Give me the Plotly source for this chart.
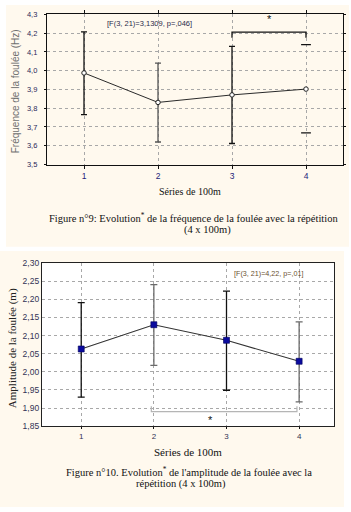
import plotly.graph_objects as go

W, H = 351, 512

# ---------------- data ----------------
series = [1, 2, 3, 4]
series_ticktext = ["1", "2", "3", "4"]

freq_mean = [3.988, 3.831, 3.871, 3.902]
freq_upper = [4.207, 4.040, 4.130, 4.139]
freq_lower = [3.766, 3.620, 3.612, 3.669]
freq_tickvals = [3.5, 3.6, 3.7, 3.8, 3.9, 4.0, 4.1, 4.2, 4.3]
freq_ticktext = ["3,5", "3,6", "3,7", "3,8", "3,9", "4,0", "4,1", "4,2", "4,3"]
freq_stat = "[F(3, 21)=3,1309, p=,046]"
freq_bracket_x = [3, 3, 4, 4]
freq_bracket_y = [4.175, 4.206, 4.206, 4.175]
freq_star = (3.5, 4.275)

amp_mean = [2.063, 2.130, 2.087, 2.029]
amp_upper = [2.191, 2.241, 2.223, 2.138]
amp_lower = [1.930, 2.018, 1.949, 1.917]
amp_tickvals = [1.85, 1.90, 1.95, 2.00, 2.05, 2.10, 2.15, 2.20, 2.25, 2.30]
amp_ticktext = ["1,85", "1,90", "1,95", "2,00", "2,05", "2,10", "2,15", "2,20", "2,25", "2,30"]
amp_stat = "[F(3, 21)=4,22, p=,01]"
amp_bracket_x = [1.965, 1.965, 3.97, 3.97]
amp_bracket_y = [1.905, 1.890, 1.890, 1.905]
amp_star = (2.785, 1.866)

# ---------------- styles ----------------
CREAM = "#fff9ee"
SANS = "Liberation Sans, Arial, sans-serif"
SERIF = "Liberation Serif, Times New Roman, serif"
freq_err_colors = ["#111111", "#555555", "#111111", "#111111"]
freq_stem_visible = [True, True, True, False]
amp_err_colors = ["#111111", "#6a6a6a", "#111111", "#6a6a6a"]


def px(x, y):
    return x / W, 1 - y / H


fig = go.Figure()

# ----- chart 1 error bars -----
for s, m, u, l, c, stem in zip(series, freq_mean, freq_upper, freq_lower,
                               freq_err_colors, freq_stem_visible):
    if stem:
        fig.add_trace(go.Scatter(
            x=[s], y=[m], mode="markers", marker=dict(opacity=0),
            error_y=dict(type="data", symmetric=False, array=[u - m],
                         arrayminus=[m - l], color=c, thickness=1.3, width=3),
            xaxis="x", yaxis="y", showlegend=False, hoverinfo="skip"))
    else:
        fig.add_trace(go.Scatter(
            x=[s, s], y=[u, l], mode="markers",
            marker=dict(symbol="line-ew", size=7, line=dict(color=c, width=1.3)),
            xaxis="x", yaxis="y", showlegend=False, hoverinfo="skip"))

fig.add_trace(go.Scatter(
    x=series, y=freq_mean, mode="lines+markers",
    line=dict(color="#2a2a2a", width=1),
    marker=dict(symbol="circle", size=4.5, color="white", line=dict(color="#222222", width=1)),
    xaxis="x", yaxis="y", showlegend=False))

fig.add_trace(go.Scatter(
    x=freq_bracket_x, y=freq_bracket_y, mode="lines",
    line=dict(color="#111111", width=1.3),
    xaxis="x", yaxis="y", showlegend=False, hoverinfo="skip"))

# ----- chart 2 error bars -----
for s, m, u, l, c in zip(series, amp_mean, amp_upper, amp_lower, amp_err_colors):
    fig.add_trace(go.Scatter(
        x=[s], y=[m], mode="markers", marker=dict(opacity=0),
        error_y=dict(type="data", symmetric=False, array=[u - m],
                     arrayminus=[m - l], color=c, thickness=1.3, width=3.5),
        xaxis="x2", yaxis="y2", showlegend=False, hoverinfo="skip"))

fig.add_trace(go.Scatter(
    x=series, y=amp_mean, mode="lines+markers",
    line=dict(color="#333333", width=1.1),
    marker=dict(symbol="square", size=6, color="#0b0b9e", line=dict(color="#00005a", width=0.6)),
    xaxis="x2", yaxis="y2", showlegend=False))

fig.add_trace(go.Scatter(
    x=amp_bracket_x, y=amp_bracket_y, mode="lines",
    line=dict(color="#b5b5b5", width=1.2),
    xaxis="x2", yaxis="y2", showlegend=False, hoverinfo="skip"))

# ----- axes -----
x1d = [47 / W, 343 / W]
y1d = [1 - 162.7 / H, 1 - 9.6 / H]
x2d = [42 / W, 334 / W]
y2d = [1 - 429.5 / H, 1 - 263.3 / H]

grid = dict(showgrid=True, gridcolor="#a8a8a8", gridwidth=0.8, griddash="dot")

fig.update_layout(
    width=W, height=H, margin=dict(l=0, r=0, t=0, b=0),
    paper_bgcolor="white", plot_bgcolor="rgba(0,0,0,0)",
    xaxis=dict(domain=x1d, anchor="y", range=[0.5, 4.5], tickvals=series,
               ticktext=series_ticktext, showline=True, linecolor="#111111",
               linewidth=1.2, mirror="ticks", ticks="outside", ticklen=3,
               tickcolor="#111111", zeroline=False,
               tickfont=dict(family=SANS, size=8.5, color="#23237a"), **grid),
    yaxis=dict(domain=y1d, anchor="x", range=[3.5, 4.3], tickvals=freq_tickvals,
               ticktext=freq_ticktext, showline=True, linecolor="#111111",
               linewidth=1.2, mirror="ticks", ticks="outside", ticklen=2,
               tickcolor="#111111", zeroline=False, ticklabelstandoff=5,
               tickfont=dict(family=SANS, size=7.5, color="#2a2a5a"), **grid),
    xaxis2=dict(domain=x2d, anchor="y2", range=[0.46, 4.48], tickvals=series,
                ticktext=series_ticktext, showline=True, linecolor="#222222",
                linewidth=1.3, mirror=True, ticks="outside", ticklen=2,
                tickcolor="#111111", zeroline=False,
                tickfont=dict(family=SANS, size=8, color="#333355"), **grid),
    yaxis2=dict(domain=y2d, anchor="x2", range=[1.85, 2.30], tickvals=amp_tickvals,
                ticktext=amp_ticktext, showline=True, linecolor="#222222",
                linewidth=1.3, mirror=True, ticks="", zeroline=False,
                tickfont=dict(family=SANS, size=8.5, color="#333355"), **grid),
)

# ----- background panels -----
shapes = []
a0, b1 = px(6, 0)
a1, b0 = px(349, 246.5)
shapes.append(dict(type="rect", xref="paper", yref="paper", x0=a0, x1=a1, y0=b0, y1=b1,
                   fillcolor=CREAM, line=dict(width=0), layer="below"))
a0, b1 = px(0, 251)
a1, b0 = px(344, 512)
shapes.append(dict(type="rect", xref="paper", yref="paper", x0=a0, x1=a1, y0=b0, y1=b1,
                   fillcolor=CREAM, line=dict(width=0), layer="below"))
shapes.append(dict(type="rect", xref="x2 domain", yref="y2 domain", x0=0, x1=1, y0=0, y1=1,
                   fillcolor="white", line=dict(width=0), layer="below"))
fig.update_layout(shapes=shapes)

# ----- text -----
ann = []


def ptext(x, y, text, size, family, color="#111111", angle=0, xanchor="center"):
    xx, yy = px(x, y)
    ann.append(dict(x=xx, y=yy, xref="paper", yref="paper", text=text, showarrow=False,
                    xanchor=xanchor, yanchor="middle", textangle=angle,
                    font=dict(size=size, family=family, color=color)))


ptext(15, 88, "Fréquence de la foulée (Hz)", 10, SANS, "#707070", angle=-90)
ptext(190, 190, "Séries de 100m", 10, SERIF)
ptext(193, 217, "Figure n°9: Evolution<sup>*</sup> de la fréquence de la foulée avec la répétition",
      10.5, SERIF)
ptext(207, 229, "(4 x 100m)", 10.5, SERIF)
ptext(149, 19, freq_stat, 7.5, SANS, "#2a2a4a")

ptext(12, 350, "Amplitude de la foulée (m)", 11, SERIF, "#222222", angle=-90)
ptext(188, 456, "Séries de 100m", 11, SERIF)
ptext(189, 476, "Figure n°10. Evolution<sup>*</sup> de l'amplitude de la foulée avec la",
      10.5, SERIF)
ptext(181, 489, "répétition (4 x 100m)", 10.5, SERIF)
ptext(268.5, 274, amp_stat, 7.2, SANS, "#6a5030")

ann.append(dict(x=freq_star[0], y=freq_star[1], xref="x", yref="y", text="*",
                showarrow=False, font=dict(size=11, family=SANS, color="#111111")))
ann.append(dict(x=amp_star[0], y=amp_star[1], xref="x2", yref="y2", text="*",
                showarrow=False, font=dict(size=11, family=SANS, color="#111111")))

fig.update_layout(annotations=ann)

fig.write_html("out.html")
